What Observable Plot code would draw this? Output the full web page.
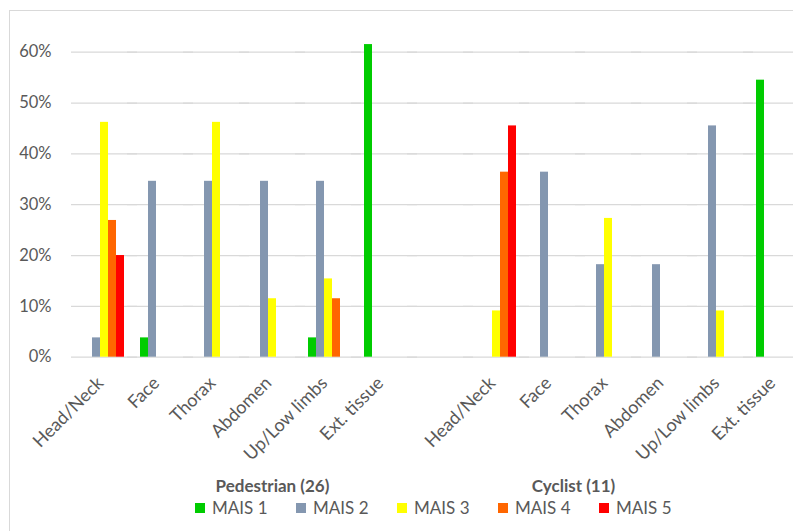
<!DOCTYPE html>
<html>
<head>
<meta charset="utf-8">
<script src="https://cdn.jsdelivr.net/npm/d3@7"></script>
<script src="https://cdn.jsdelivr.net/npm/@observablehq/plot@0.6"></script>
<style>
  body { margin: 0; background: #fff; font-family: Lato, "Open Sans", sans-serif; }
  #chart { position: relative; width: 793px; height: 531px; overflow: hidden; background: #fff; }
  #border { position: absolute; left: 9px; top: 10px; width: 1200px; height: 1200px;
            border: 1.5px solid #d9d9d9; box-sizing: border-box; }
  #plot { position: absolute; left: 0; top: 0; width: 820px; }
  #legend { position: absolute; top: 499px; left: 195px; display: flex; font-size: 17px;
            line-height: 18px; color: #595959; }
  .item { width: 101px; display: flex; align-items: center; white-space: nowrap; }
  .swatch { width: 10px; height: 10px; margin-right: 7px; }
</style>
</head>
<body>
<div id="chart">
  <div id="border"></div>
  <div id="plot"></div>
  <div id="legend"></div>
</div>
<script>
// Body regions, shared by both road-user groups
const regions = ["Head/Neck", "Face", "Thorax", "Abdomen", "Up/Low limbs", "Ext. tissue"];
const groups = ["Pedestrian (26)", "Cyclist (11)"];
const severities = ["MAIS 1", "MAIS 2", "MAIS 3", "MAIS 4", "MAIS 5"];
const colors = ["#00CC00", "#8497B0", "#FFFF00", "#FF6600", "#FF0000"];
const yTicks = [0, 10, 20, 30, 40, 50, 60];

// Share of injured (%) per region, one array per MAIS level (null = none)
const pedMais1 = [null, 3.8, null, null, 3.8, 61.5];
const pedMais2 = [3.8, 34.6, 34.6, 34.6, 34.6, null];
const pedMais3 = [46.2, null, 46.2, 11.5, 15.4, null];
const pedMais4 = [26.9, null, null, null, 11.5, null];
const pedMais5 = [20.0, null, null, null, null, null];

const cycMais1 = [null, null, null, null, null, 54.5];
const cycMais2 = [null, 36.4, 18.2, 18.2, 45.5, null];
const cycMais3 = [9.1, null, 27.3, null, 9.1, null];
const cycMais4 = [36.4, null, null, null, null, null];
const cycMais5 = [45.5, null, null, null, null, null];

const pedestrian = [pedMais1, pedMais2, pedMais3, pedMais4, pedMais5];
const cyclist = [cycMais1, cycMais2, cycMais3, cycMais4, cycMais5];

// Category keys along the bottom: pedestrian regions, a spacer, cyclist regions
const keyOf = (g, r) => g + "|" + r;
const slots = [
  ...regions.map(r => keyOf("P", r)),
  "spacer",
  ...regions.map(r => keyOf("C", r))
];

const rows = [];
[["P", pedestrian], ["C", cyclist]].forEach(([g, table]) => {
  table.forEach((vals, si) => {
    vals.forEach((v, ri) => {
      if (v != null) rows.push({slot: keyOf(g, regions[ri]), severity: severities[si], value: v});
    });
  });
});

// one gridline per tick in every slot, so the spacer slot is drawn as well
const gridRows = slots.flatMap(slot => yTicks.map(t => ({slot, t})));

const textColor = "#595959";

const chart = Plot.plot({
  width: 820,
  height: 531,
  marginLeft: 73,
  marginRight: 13.8,
  marginTop: 51.7,
  marginBottom: 174.3,
  style: {fontFamily: "Lato, 'Open Sans', sans-serif", color: textColor, overflow: "visible",
          background: "transparent", maxWidth: "none"},
  fx: {domain: slots, paddingInner: 0, paddingOuter: 0, axis: null},
  x: {domain: severities, paddingInner: 0, paddingOuter: 0.633, axis: null},
  y: {domain: [0, 60], axis: null},
  color: {domain: severities, range: colors},
  marks: [
    // gridlines reach a little past the first and last category
    Plot.ruleY(gridRows, {fx: "slot", y: "t", stroke: "#d9d9d9", strokeWidth: 1.3, insetLeft: -5, insetRight: -5}),
    Plot.axisY(yTicks, {
      tickSize: 0, tickPadding: 25, tickFormat: d => d + "%",
      label: null, fontSize: 16.5, fill: textColor
    }),
    Plot.barY(rows, {fx: "slot", x: "severity", y: "value", fill: "severity"}),
    Plot.axisFx({
      anchor: "bottom", rotate: -45, textAnchor: "end", tickSize: 0, tickPadding: 18, dx: -9,
      tickFormat: k => k === "spacer" ? "" : k.split("|")[1],
      label: null, fontSize: 18, fill: textColor
    }),
    Plot.text([groups[0]], {
      fx: [keyOf("P", "Abdomen")], text: d => d, frameAnchor: "bottom", dy: 135,
      fontSize: 17, fontWeight: "bold", fill: textColor
    }),
    Plot.text([groups[1]], {
      fx: [keyOf("C", "Face")], text: d => d, frameAnchor: "bottom", dy: 135, dx: 21,
      fontSize: 17, fontWeight: "bold", fill: textColor
    })
  ]
});
document.getElementById("plot").appendChild(chart);

// Series key
const legend = document.getElementById("legend");
severities.forEach((s, i) => {
  const item = document.createElement("div");
  item.className = "item";
  const sw = document.createElement("span");
  sw.className = "swatch";
  sw.style.background = colors[i];
  item.appendChild(sw);
  item.appendChild(document.createTextNode(s));
  legend.appendChild(item);
});
</script>
</body>
</html>
